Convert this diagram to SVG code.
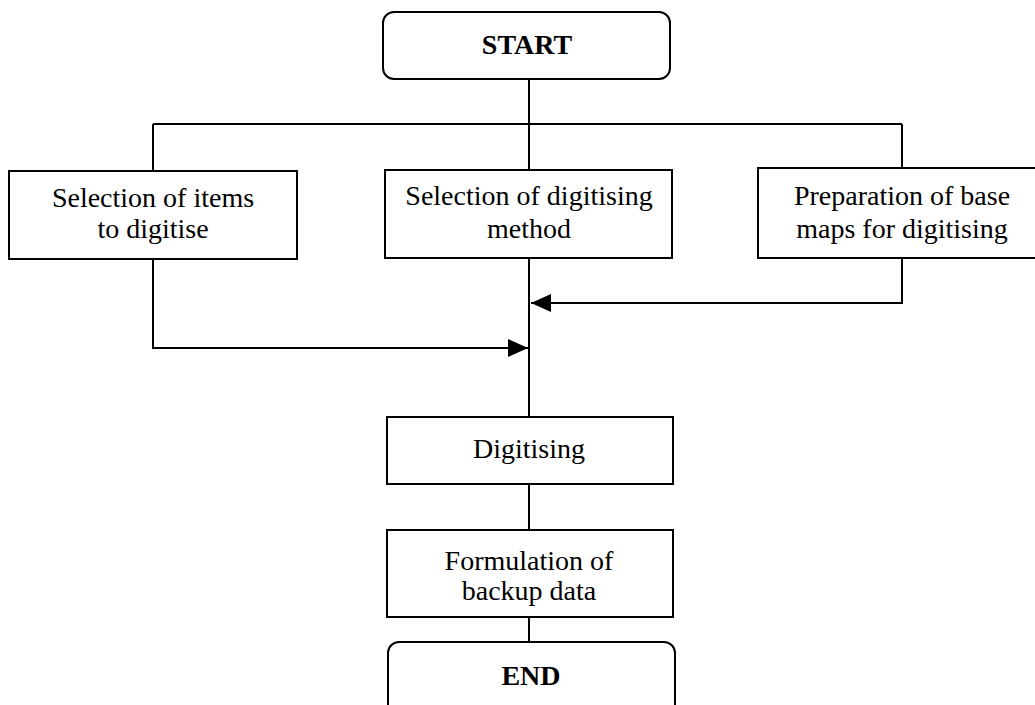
<svg xmlns="http://www.w3.org/2000/svg" width="1035" height="705" viewBox="0 0 1035 705">
  <style>
    .box { fill: #fff; stroke: #000; stroke-width: 2; }
    .lbl { font-family: "Liberation Serif", "Times New Roman", serif; font-size: 28px; fill: #000; text-anchor: middle; }
    .bold { font-weight: bold; }
    .wire { fill: none; stroke: #000; stroke-width: 2; }
  </style>
  <defs>
    <marker id="head" viewBox="0 0 20 18" refX="20" refY="9" markerWidth="20" markerHeight="18" markerUnits="userSpaceOnUse" orient="auto">
      <path d="M0,0 L20,9 L0,18 Z" fill="#000"/>
    </marker>
  </defs>
  <rect width="1035" height="705" fill="#fff"/>

  <!-- connectors -->
  <g id="connectors">
    <path class="wire" d="M529,79 V170"/>
    <path class="wire" d="M153,124 H902"/>
    <path class="wire" d="M153,124 V171"/>
    <path class="wire" d="M902,124 V168"/>
    <path class="wire" d="M529,258 V417"/>
    <path class="wire" d="M902,258 V303 H531" marker-end="url(#head)"/>
    <path class="wire" d="M153,259 V348 H528" marker-end="url(#head)"/>
    <path class="wire" d="M529,484 V530"/>
    <path class="wire" d="M529,617 V642"/>
  </g>

  <g id="start">
    <rect class="box" x="383" y="12" width="287" height="67" rx="11"/>
    <text class="lbl bold" x="527" y="54">START</text>
  </g>

  <g id="select-items">
    <rect class="box" x="9" y="171" width="288" height="88"/>
    <text class="lbl" x="153" y="207">Selection of items</text>
    <text class="lbl" x="153" y="238">to digitise</text>
  </g>

  <g id="select-method">
    <rect class="box" x="385" y="170" width="287" height="88"/>
    <text class="lbl" x="529" y="205">Selection of digitising</text>
    <text class="lbl" x="529" y="238">method</text>
  </g>

  <g id="prepare-maps">
    <rect class="box" x="758" y="168" width="290" height="90"/>
    <text class="lbl" x="902" y="205">Preparation of base</text>
    <text class="lbl" x="902" y="238">maps for digitising</text>
  </g>

  <g id="digitising">
    <rect class="box" x="387" y="417" width="286" height="67"/>
    <text class="lbl" x="529" y="458">Digitising</text>
  </g>

  <g id="backup">
    <rect class="box" x="387" y="530" width="286" height="87"/>
    <text class="lbl" x="529" y="570">Formulation of</text>
    <text class="lbl" x="529" y="600">backup data</text>
  </g>

  <g id="end">
    <rect class="box" x="388" y="642" width="287" height="80" rx="11"/>
    <text class="lbl bold" x="531" y="685">END</text>
  </g>
</svg>
